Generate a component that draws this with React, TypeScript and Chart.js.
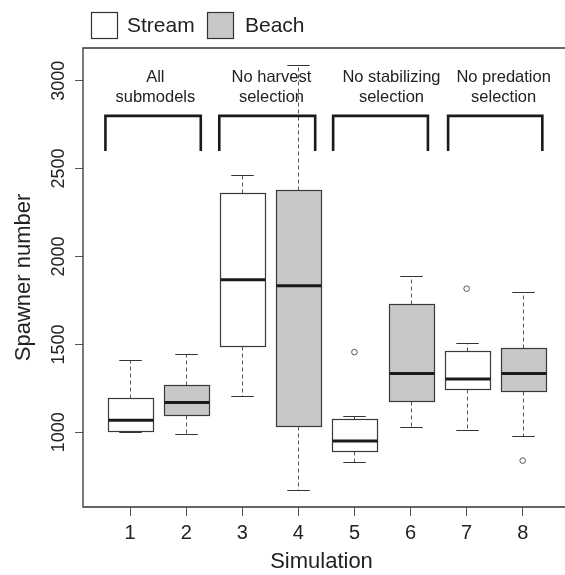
import React, { useEffect, useRef } from 'react';
import { Chart, registerables } from 'chart.js';

Chart.register(...registerables);

// ---- data ----
const simulations = [1, 2, 3, 4, 5, 6, 7, 8];
const habitats = ['Stream', 'Beach', 'Stream', 'Beach', 'Stream', 'Beach', 'Stream', 'Beach'];
const lowerWhisker = [1002, 990, 1208, 672, 830, 1028, 1011, 977];
const lowerQuartile = [1006, 1097, 1490, 1036, 896, 1178, 1248, 1233];
const medians = [1068, 1169, 1868, 1833, 951, 1335, 1303, 1335];
const upperQuartile = [1193, 1268, 2362, 2381, 1078, 1731, 1460, 1479];
const upperWhisker = [1409, 1447, 2461, 3089, 1091, 1887, 1507, 1796];
const outlierSimulation = [5, 7, 8];
const outlierValue = [1456, 1817, 839];
const yTicks = [1000, 1500, 2000, 2500, 3000];
const legendLabels = ['Stream', 'Beach'];
const groupLabels = [
  ['All', 'submodels'],
  ['No harvest', 'selection'],
  ['No stabilizing', 'selection'],
  ['No predation', 'selection'],
];
const groupLabelX = [1.45, 3.52, 5.66, 7.66];
const bracketFrom = [0.56, 2.59, 4.62, 6.67];
const bracketTo = [2.26, 4.3, 6.31, 8.35];
const bracketLow = 2600;
const bracketHigh = 2800;
const labelLine1 = 2990;
const labelLine2 = 2880;

const FONT = '"Liberation Sans", Arial, Helvetica, sans-serif';
const fillFor: Record<string, string> = { Stream: '#ffffff', Beach: '#c8c8c8' };
const TEXT = '#222222';

const boxPlugin = {
  id: 'boxplotDraw',
  beforeDatasetsDraw(chart: any) {
    const { ctx, scales } = chart;
    const x = scales.x;
    const y = scales.y;
    const line = (x1: number, y1: number, x2: number, y2: number) => {
      ctx.beginPath();
      ctx.moveTo(x1, y1);
      ctx.lineTo(x2, y2);
      ctx.stroke();
    };
    ctx.save();
    simulations.forEach((s, i) => {
      const cx = Math.round(x.getPixelForValue(s)) + 0.5;
      const hw = x.getPixelForValue(s + 0.4) - x.getPixelForValue(s);
      const cap = hw / 2;
      const yLo = Math.round(y.getPixelForValue(lowerWhisker[i])) + 0.5;
      const yQ1 = Math.round(y.getPixelForValue(lowerQuartile[i])) + 0.5;
      const yMed = y.getPixelForValue(medians[i]);
      const yQ3 = Math.round(y.getPixelForValue(upperQuartile[i])) + 0.5;
      const yHi = Math.round(y.getPixelForValue(upperWhisker[i])) + 0.5;
      // whiskers
      ctx.strokeStyle = '#555555';
      ctx.lineWidth = 1;
      ctx.setLineDash([4, 3]);
      line(cx, yQ3, cx, yHi);
      line(cx, yQ1, cx, yLo);
      ctx.setLineDash([]);
      ctx.strokeStyle = '#333333';
      line(cx - cap, yHi, cx + cap, yHi);
      line(cx - cap, yLo, cx + cap, yLo);
      // box
      const left = Math.round(cx - hw) + 0.5;
      const right = Math.round(cx + hw) + 0.5;
      ctx.fillStyle = fillFor[habitats[i]];
      ctx.fillRect(left, yQ3, right - left, yQ1 - yQ3);
      ctx.strokeStyle = '#3a3a3a';
      ctx.lineWidth = 1.2;
      ctx.strokeRect(left, yQ3, right - left, yQ1 - yQ3);
      // median
      ctx.strokeStyle = '#1a1a1a';
      ctx.lineWidth = 3;
      line(left, yMed, right, yMed);
    });
    ctx.restore();
  },
  afterDraw(chart: any) {
    const { ctx, scales, chartArea } = chart;
    const x = scales.x;
    const y = scales.y;
    ctx.save();
    // frame (left, top, bottom)
    ctx.strokeStyle = '#333333';
    ctx.lineWidth = 1.3;
    ctx.beginPath();
    ctx.moveTo(chartArea.right + 5, chartArea.top);
    ctx.lineTo(chartArea.left, chartArea.top);
    ctx.lineTo(chartArea.left, chartArea.bottom);
    ctx.lineTo(chartArea.right + 5, chartArea.bottom);
    ctx.stroke();

    // brackets
    ctx.strokeStyle = '#1a1a1a';
    ctx.lineWidth = 2.6;
    ctx.lineJoin = 'miter';
    bracketFrom.forEach((b, i) => {
      const x1 = x.getPixelForValue(b);
      const x2 = x.getPixelForValue(bracketTo[i]);
      const yb = y.getPixelForValue(bracketLow);
      const yt = y.getPixelForValue(bracketHigh);
      ctx.beginPath();
      ctx.moveTo(x1, yb);
      ctx.lineTo(x1, yt);
      ctx.lineTo(x2, yt);
      ctx.lineTo(x2, yb);
      ctx.stroke();
    });

    // group labels
    ctx.fillStyle = TEXT;
    ctx.font = `16.5px ${FONT}`;
    ctx.textAlign = 'center';
    ctx.textBaseline = 'alphabetic';
    groupLabels.forEach((lines, i) => {
      const px = x.getPixelForValue(groupLabelX[i]);
      ctx.fillText(lines[0], px, y.getPixelForValue(labelLine1));
      ctx.fillText(lines[1], px, y.getPixelForValue(labelLine2));
    });

    // legend
    const legendBoxX = [91, 207];
    const legendTextX = [127, 245];
    ctx.font = `21px ${FONT}`;
    ctx.textAlign = 'left';
    legendLabels.forEach((lab, i) => {
      ctx.fillStyle = fillFor[lab];
      ctx.fillRect(legendBoxX[i] + 0.5, 12.5, 26, 26);
      ctx.strokeStyle = '#333333';
      ctx.lineWidth = 1.2;
      ctx.strokeRect(legendBoxX[i] + 0.5, 12.5, 26, 26);
      ctx.fillStyle = TEXT;
      ctx.fillText(lab, legendTextX[i], 32);
    });
    ctx.restore();
  },
};

export default function App() {
  const canvasRef = useRef<HTMLCanvasElement | null>(null);

  useEffect(() => {
    if (!canvasRef.current) return;
    Chart.defaults.font.family = FONT;
    const chart = new Chart(canvasRef.current, {
      type: 'scatter',
      data: {
        datasets: [
          {
            label: 'Outliers',
            data: outlierSimulation.map((s, i) => ({ x: s, y: outlierValue[i] })),
            pointRadius: 2.8,
            pointBorderWidth: 1,
            pointBorderColor: '#555555',
            pointBackgroundColor: 'rgba(0,0,0,0)',
          },
        ],
      },
      options: {
        animation: false,
        responsive: true,
        maintainAspectRatio: false,
        layout: { padding: { top: 48, left: 0, right: 0, bottom: 0 } },
        plugins: {
          legend: { display: false },
          tooltip: { enabled: false },
        },
        scales: {
          x: {
            type: 'linear',
            min: 0.16,
            max: 8.665,
            afterBuildTicks: (s: any) => {
              s.ticks = simulations.map((v) => ({ value: v }));
            },
            afterFit: (s: any) => {
              s.height = 68;
            },
            grid: { drawOnChartArea: false, drawTicks: true, tickLength: 9, color: '#555555' },
            border: { display: false },
            ticks: {
              font: { size: 20 },
              color: TEXT,
              padding: 5,
              maxRotation: 0,
              autoSkip: false,
              callback: (v: any) => String(v),
            },
            title: { display: true, text: 'Simulation', font: { size: 22 }, color: TEXT, padding: { top: 0, bottom: 0 } },
          },
          y: {
            type: 'linear',
            min: 575,
            max: 3186,
            afterBuildTicks: (s: any) => {
              s.ticks = yTicks.map((v) => ({ value: v }));
            },
            afterFit: (s: any) => {
              s.width = 83;
            },
            grid: { drawOnChartArea: false, drawTicks: true, tickLength: 8, color: '#555555' },
            border: { display: false },
            ticks: {
              font: { size: 18 },
              color: TEXT,
              minRotation: 90,
              maxRotation: 90,
              crossAlign: 'center',
              padding: -4,
              callback: (v: any) => String(v),
            },
            title: { display: true, text: 'Spawner number', font: { size: 22 }, color: TEXT, padding: { top: 11, bottom: 0 } },
          },
        },
      },
      plugins: [boxPlugin],
    } as any);
    return () => chart.destroy();
  }, []);

  return (
    <div style={{ position: 'absolute', left: 0, top: 0, width: 565, height: 575, background: '#ffffff' }}>
      <canvas ref={canvasRef} />
    </div>
  );
}
